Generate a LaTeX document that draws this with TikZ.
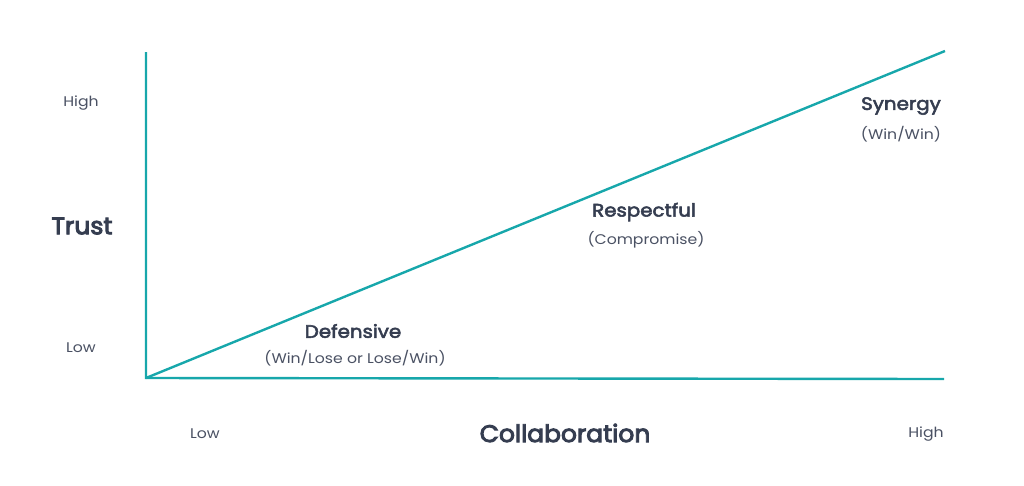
\documentclass[tikz,border=0pt]{standalone}
\usepackage{fontspec}
\setmainfont{Poppins}
\newfontfamily\wideface[FakeStretch=1.12]{Poppins}
\newfontfamily\headface[FakeStretch=1.1,FakeBold=3]{Poppins}
\newfontfamily\bigface[FakeStretch=1.04,FakeBold=4]{Poppins}
\definecolor{teal1}{HTML}{17A7AB}
\definecolor{ink}{HTML}{353D50}
\definecolor{ink2}{HTML}{4A5163}
\begin{document}
\begin{tikzpicture}[x=1pt,y=-1pt,
  axis/.style={draw=teal1,line width=2.4pt,line join=miter},
  lbl/.style={text=ink2,font=\wideface\fontsize{14}{16}\selectfont,inner sep=0pt},
  big/.style={text=ink,font=\bigface\fontsize{24}{28}\selectfont,inner sep=0pt},
  head/.style={text=ink,font=\headface\fontsize{18}{21}\selectfont,inner sep=0pt},
  sub/.style={text=ink2,font=\wideface\fontsize{14}{16}\selectfont,inner sep=0pt}]
\useasboundingbox (0,0) rectangle (1024,485);
\coordinate (top) at (146,52);
\coordinate (org) at (146,378);
\coordinate (right) at (944,379);
\coordinate (diag) at (945,51);
\draw[axis] (top) -- (org) -- (right);
\draw[axis] (org) -- (diag);
\node[lbl] (yhigh) at (81,103) {High};
\node[big] (ytitle) at (82,226) {Trust};
\node[lbl] (ylow) at (81,348) {Low};
\node[lbl] (xlow) at (205,434) {Low};
\node[big] (xtitle) at (565,433) {Collaboration};
\node[lbl] (xhigh) at (926,434) {High};
\node[head] (def) at (353,331) {Defensive};
\node[sub] (defs) at (355,358) {(Win/Lose or Lose/Win)};
\node[head] (res) at (644,212) {Respectful};
\node[sub] (ress) at (646,240) {(Compromise)};
\node[head] (syn) at (901,106) {Synergy};
\node[sub] (syns) at (901,134) {(Win/Win)};
\end{tikzpicture}
\end{document}
